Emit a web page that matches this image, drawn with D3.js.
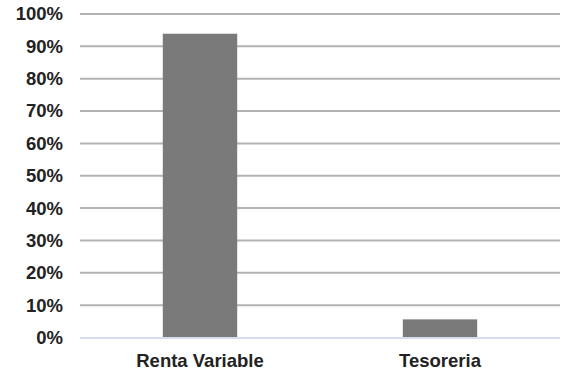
<!DOCTYPE html>
<html>
<head>
<meta charset="utf-8">
<script src="https://cdn.jsdelivr.net/npm/d3@7"></script>
<style>
  html, body { margin: 0; padding: 0; background: #fff; }
  svg { display: block; }
  text { font-family: "Liberation Sans", Arial, sans-serif; font-weight: bold; fill: #222; }
</style>
</head>
<body>
<svg id="chart" width="565" height="373"></svg>
<script>
// Asset allocation shares (percent)
const categories = ["Renta Variable", "Tesoreria"];
const values = [93.9, 5.6];
const tickValues = [0, 10, 20, 30, 40, 50, 60, 70, 80, 90, 100];

const width = 565, height = 373;
const margin = { top: 14, right: 5, bottom: 35.5, left: 80 };
const fontSize = "18.5px";

const svg = d3.select("#chart");

const x = d3.scaleBand()
  .domain(categories)
  .range([margin.left, width - margin.right])
  .paddingInner(0.69)
  .paddingOuter(0.345);

const y = d3.scaleLinear()
  .domain([0, 100])
  .range([height - margin.bottom, margin.top]);

// Horizontal gridlines
svg.append("g")
  .selectAll("line")
  .data(tickValues.filter(d => d > 0))
  .join("line")
  .attr("x1", margin.left)
  .attr("x2", width - margin.right)
  .attr("y1", d => y(d))
  .attr("y2", d => y(d))
  .attr("stroke", "#b3b3b3")
  .attr("stroke-width", 2);

// Bars
svg.append("g")
  .selectAll("rect")
  .data(values)
  .join("rect")
  .attr("x", (d, i) => x(categories[i]))
  .attr("y", d => y(d))
  .attr("width", x.bandwidth())
  .attr("height", d => y(0) - y(d))
  .attr("fill", "#7a7a7a");

// Baseline
svg.append("line")
  .attr("x1", margin.left)
  .attr("x2", width - margin.right)
  .attr("y1", y(0) + 0.5)
  .attr("y2", y(0) + 0.5)
  .attr("stroke", "#d5ddf0")
  .attr("stroke-width", 2);

// Y axis labels
const yAxis = d3.axisLeft(y)
  .tickValues(tickValues)
  .tickFormat(d => d + "%")
  .tickSize(0)
  .tickPadding(17);

const gy = svg.append("g")
  .attr("transform", `translate(${margin.left},0)`)
  .call(yAxis);
gy.select(".domain").remove();
gy.selectAll("text")
  .style("font-size", fontSize)
  .style("font-family", "'Liberation Sans', Arial, sans-serif")
  .style("font-weight", "bold")
  .attr("fill", "#222");

// X axis labels
const xAxis = d3.axisBottom(x).tickSize(0).tickPadding(16);
const gx = svg.append("g")
  .attr("transform", `translate(0,${y(0)})`)
  .call(xAxis);
gx.select(".domain").remove();
gx.selectAll("text")
  .style("font-size", fontSize)
  .style("font-family", "'Liberation Sans', Arial, sans-serif")
  .style("font-weight", "bold")
  .attr("fill", "#222");
</script>
</body>
</html>
